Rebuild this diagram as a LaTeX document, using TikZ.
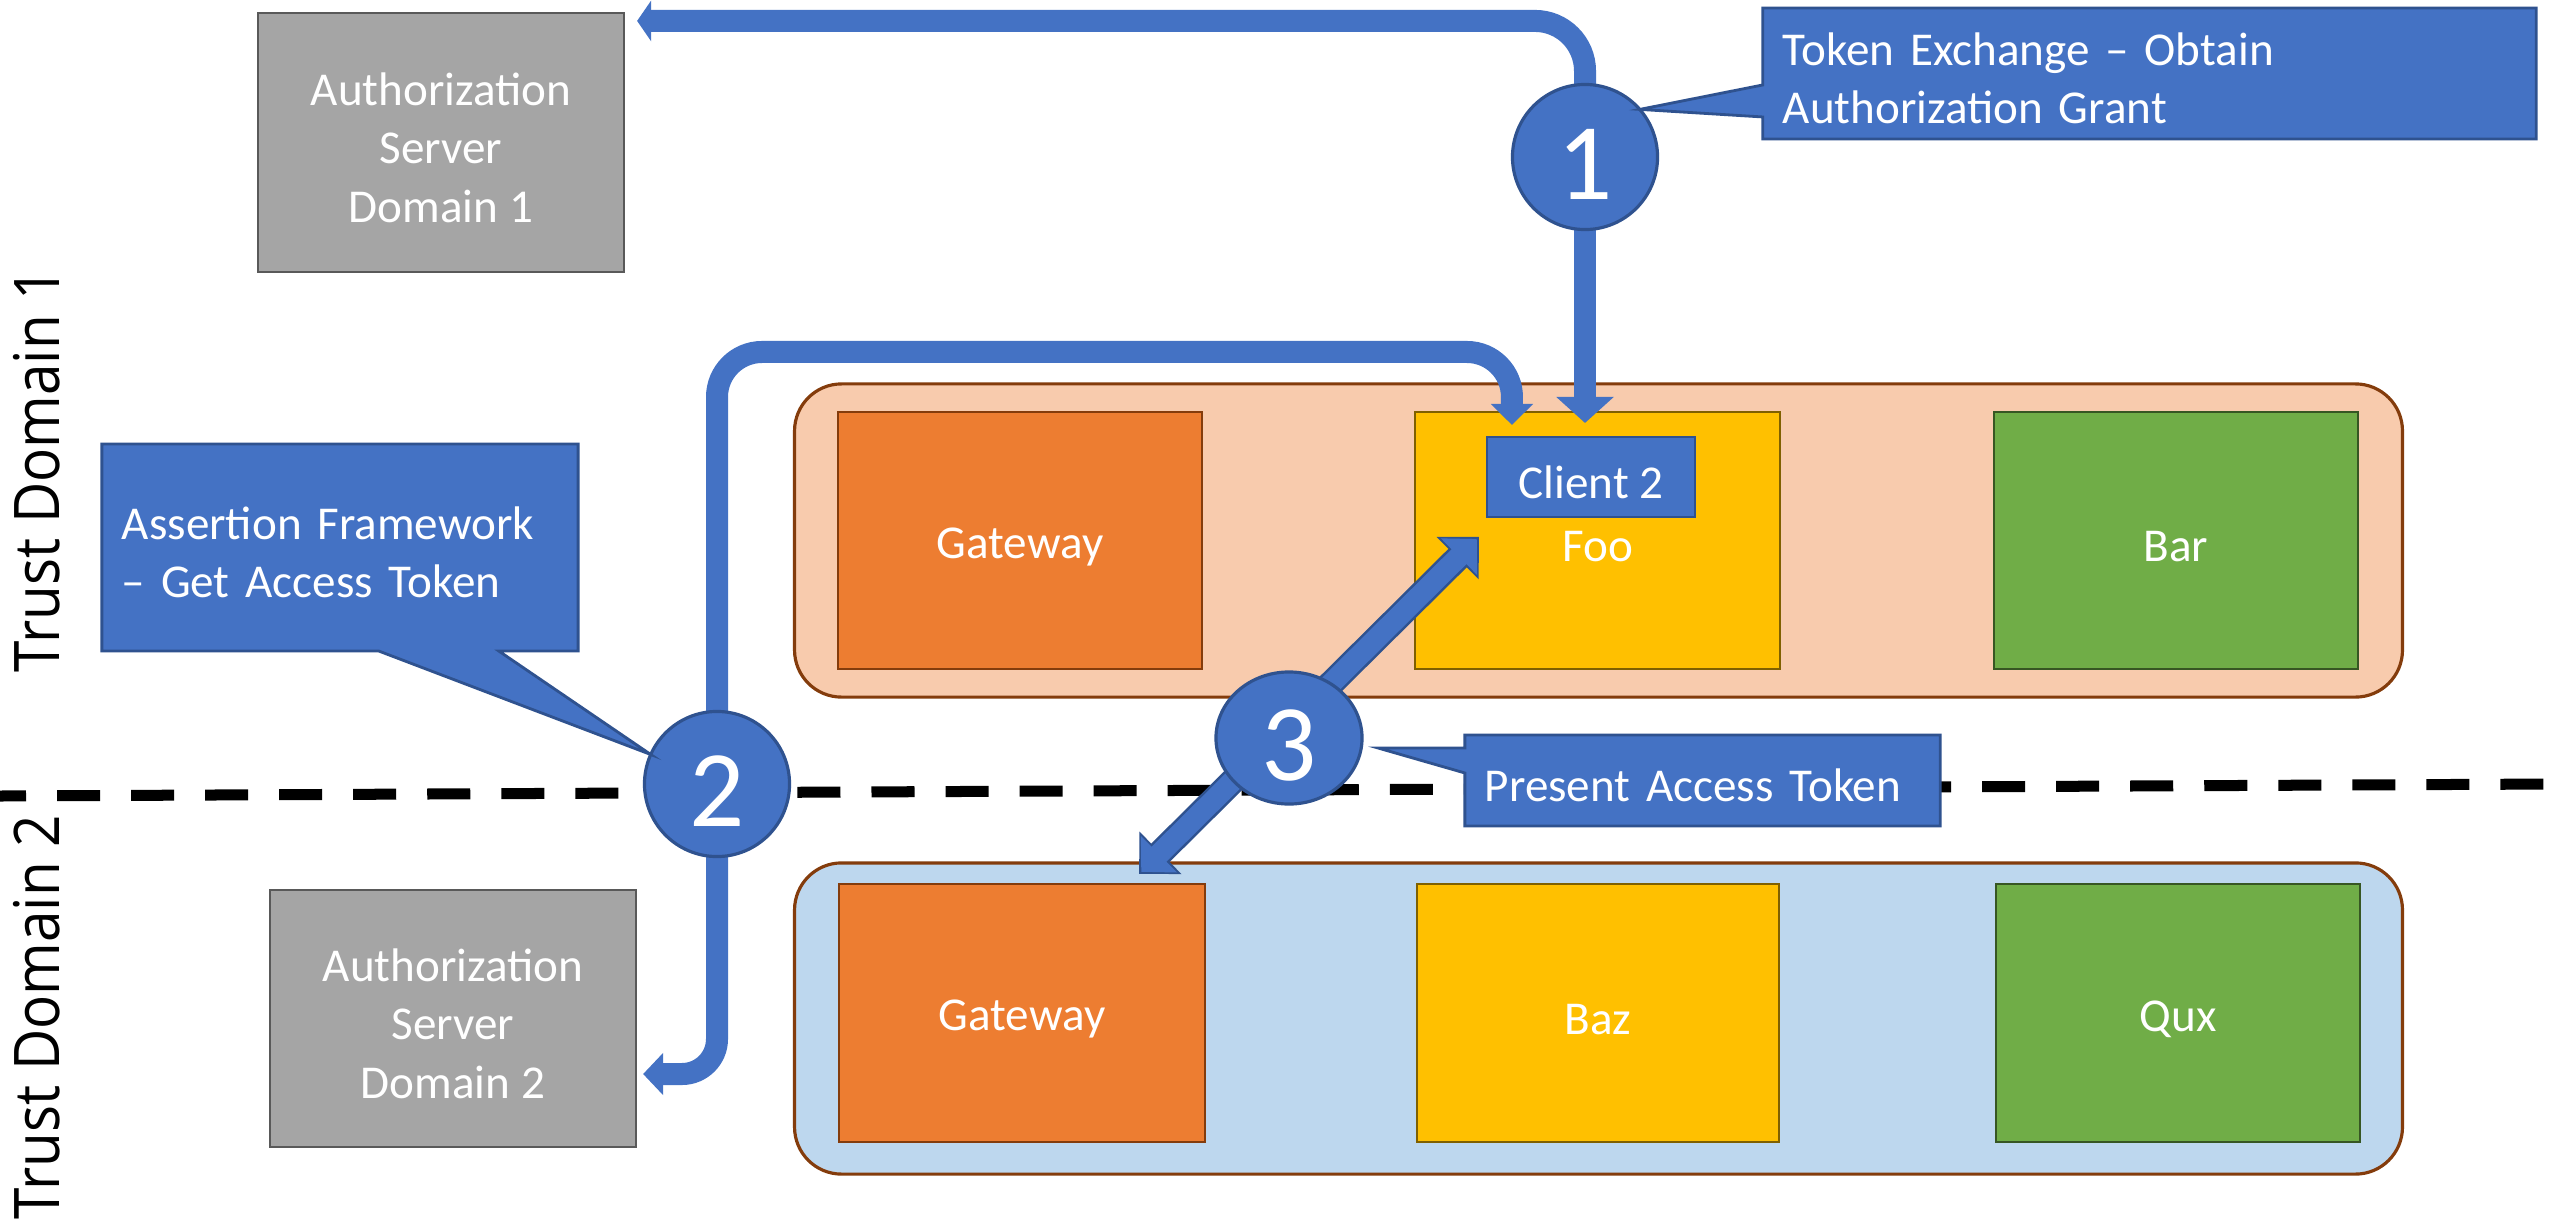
\documentclass[tikz,border=0pt]{standalone}
\usepackage{fontspec}
\usepackage{graphicx}
\setmainfont{Carlito}
\newfontfamily\tdfont{Open Sans}
\usetikzlibrary{arrows.meta,calc,shapes.geometric}
\definecolor{cBlue}{HTML}{4472C4}
\definecolor{cBlueD}{HTML}{2F528F}
\definecolor{cGray}{HTML}{A5A5A5}
\definecolor{cGrayD}{HTML}{595959}
\definecolor{cOrange}{HTML}{ED7D31}
\definecolor{cBrown}{HTML}{843C0C}
\definecolor{cYellow}{HTML}{FFC000}
\definecolor{cYellowD}{HTML}{7F6000}
\definecolor{cGreen}{HTML}{70AD47}
\definecolor{cGreenD}{HTML}{375623}
\definecolor{cPeach}{HTML}{F8CBAD}
\definecolor{cLBlue}{HTML}{BDD7EE}
\newcommand\dgbody{\fontsize{13.4pt}{16.6pt}\selectfont}
\newcommand\dgnum{\fontsize{31pt}{36pt}\selectfont}
\newcommand\dgtd{\tdfont\fontsize{17.9pt}{20pt}\selectfont}
\newcommand\dgup{\rule{0pt}{\dimexpr\fontcharht\font`h+0.1cm\relax}}
\begin{document}
\begin{tikzpicture}[x=0.01cm,y=-0.01cm,
  svc/.style={draw, line width=0.7pt, inner sep=0pt, outer sep=0pt, text=white, font=\dgbody, align=center, execute at begin node=\dgup},
  gwbox/.style={svc, fill=cOrange, draw=cBrown},
  ylbox/.style={svc, fill=cYellow, draw=cYellowD},
  grbox/.style={svc, fill=cGreen, draw=cGreenD},
  asbox/.style={draw, line width=0.7pt, inner sep=0pt, outer sep=0pt, text=white, font=\dgbody, align=center, fill=cGray, draw=cGrayD},
  cont/.style={draw=cBrown, line width=0.9pt, rounded corners=0.47cm, inner sep=0pt, outer sep=0pt},
  num/.style={circle, fill=cBlue, draw=cBlueD, line width=0.9pt, minimum size=1.45cm, inner sep=0pt, outer sep=0pt, text=white, font=\dgnum, text height=0.85cm, text depth=0cm},
  callout/.style={fill=cBlue, text=white, font=\dgbody, align=left, inner xsep=0.2cm, inner ysep=0pt, outer sep=0pt, execute at begin node=\dgup},
  cline/.style={draw=cBlueD, line width=0.8pt, line join=miter},
  flow/.style={draw=cBlue, line width=0.22cm},
  divider/.style={line width=0.11cm, dash pattern=on 0.43cm off 0.31cm, dash phase=0.17cm},
  tdlabel/.style={rotate=90, inner sep=0pt, font=\dgtd, text=black}
]
\fill[white] (0,0) rectangle (2555,1218);
\useasboundingbox (0,0) rectangle (2555,1218);

% domain divider
\draw[divider] (0,796) -- (2555,784);

% trust domain labels
\node[tdlabel] (td1) at (37,470) {\scalebox{0.9}[1]{Trust Domain 1}};
\node[tdlabel] (td2) at (37,1017) {\scalebox{0.9}[1]{Trust Domain 2}};

% containers
\node[cont, fill=cPeach, minimum width=16.07cm, minimum height=3.13cm] (dom1) at (1598.5,540.5) {};
\node[cont, fill=cLBlue, minimum width=16.07cm, minimum height=3.11cm] (dom2) at (1598.5,1018.5) {};

% services
\node[gwbox, minimum width=3.64cm, minimum height=2.57cm] (gw1) at (1020,540.5) {Gateway};
\node[ylbox, minimum width=3.65cm, minimum height=2.57cm] (foo) at (1597.5,540.5) {Foo};
\node[grbox, minimum width=3.64cm, minimum height=2.57cm] (bar) at (2176,540.5) {Bar};
\node[gwbox, minimum width=3.66cm, minimum height=2.58cm] (gw2) at (1022,1013) {Gateway};
\node[ylbox, minimum width=3.62cm, minimum height=2.58cm] (baz) at (1598,1013) {Baz};
\node[grbox, minimum width=3.64cm, minimum height=2.58cm] (qux) at (2178,1013) {Qux};
\node[svc, fill=cBlue, draw=cBlueD, minimum width=2.08cm, minimum height=0.80cm] (client) at (1591,477) {Client 2};

% authorization servers
\node[asbox, minimum width=3.66cm, minimum height=2.59cm] (as1) at (441,142.5) {\dgup Authorization\\Server\\Domain 1};
\node[asbox, minimum width=3.66cm, minimum height=2.57cm] (as2) at (453,1018.5) {\dgup Authorization\\Server\\Domain 2};

% step circle centres
\path (1585,157) coordinate (n1c) (717,784) coordinate (n2c) (1289,738) coordinate (n3c);

% connector end points
\coordinate (a1a) at ($(as1.north east)+(13,8)$);
\coordinate (a1b) at ($(n1c |- client.north)+(0,-14)$);
\coordinate (a2a) at ($(client.north west)+(25,-12)$);
\coordinate (a2b) at ($(as2.east)+(7,55.5)$);
\coordinate (a3t) at ($(foo.north west)+(64,125)$);
\coordinate (a3b) at ($(gw2.north east)+(-66,-10)$);

% step 1 arrows
\draw[flow, -{Triangle[length=0.14cm,width=0.40cm]}, rounded corners=0.5cm] (n1c) |- (a1a);
\draw[flow, -{Triangle[length=0.26cm,width=0.56cm]}] (n1c) -- (a1b);
% step 2 arrows
\draw[flow, -{Triangle[length=0.21cm,width=0.41cm]}, rounded corners=0.45cm] (n2c) |- ($(a2a)+(0,-73)$) -- (a2a);
\draw[flow, -{Triangle[length=0.20cm,width=0.41cm]}, rounded corners=0.35cm] (n2c) |- (a2b);
% step 3 double arrow
\draw[draw=cBlueD, line width=0.26cm, {Triangle[length=0.30cm,width=0.58cm]}-{Triangle[length=0.30cm,width=0.58cm]}] (a3b) -- (a3t);
\draw[draw=cBlue, line width=0.21cm, shorten <=0.03cm, shorten >=0.03cm, {Triangle[length=0.25cm,width=0.50cm]}-{Triangle[length=0.25cm,width=0.50cm]}] (a3b) -- (a3t);

% circles
\node[num] (n1) at (n1c) {1};
\node[num] (n2) at (n2c) {2};
\node[num, ellipse, minimum width=1.46cm, minimum height=1.32cm] (n3) at (n3c) {3};

% callouts
\node[callout, text width=7.33cm, minimum height=1.31cm] (ct1) at (2149.5,73.5) {Token Exchange – Obtain\\Authorization Grant};
\fill[cBlue] ($(ct1.north west)+(0,77)$) -- (n1.41) -- ($(ct1.north west)+(0,109)$) -- cycle;
\draw[cline] (ct1.north west) -- (ct1.north east) -- (ct1.south east) -- (ct1.south west) -- ($(ct1.north west)+(0,109)$) -- (n1.41) -- ($(ct1.north west)+(0,77)$) -- cycle;

\node[callout, text width=4.36cm, minimum height=2.07cm] (ct2) at (340,547.5) {Assertion Framework\\– Get Access Token};
\fill[cBlue] ($(ct2.south west)+(277,0)$) -- (n2.156) -- ($(ct2.south west)+(397,0)$) -- cycle;
\draw[cline] (ct2.north west) -- (ct2.north east) -- (ct2.south east) -- ($(ct2.south west)+(397,0)$) -- (n2.156) -- ($(ct2.south west)+(277,0)$) -- (ct2.south west) -- cycle;

\node[callout, text width=4.35cm, minimum height=0.91cm] (ct3) at (1702.5,780.5) {Present Access Token};
\coordinate (p3) at ($(n3.east)+(16,10)$);
\fill[cBlue] ($(ct3.north west)+(0,13)$) -- (p3) -- ($(ct3.north west)+(0,38)$) -- cycle;
\draw[cline] (ct3.north west) -- (ct3.north east) -- (ct3.south east) -- (ct3.south west) -- ($(ct3.north west)+(0,38)$) -- (p3) -- ($(ct3.north west)+(0,13)$) -- cycle;
\end{tikzpicture}
\end{document}
